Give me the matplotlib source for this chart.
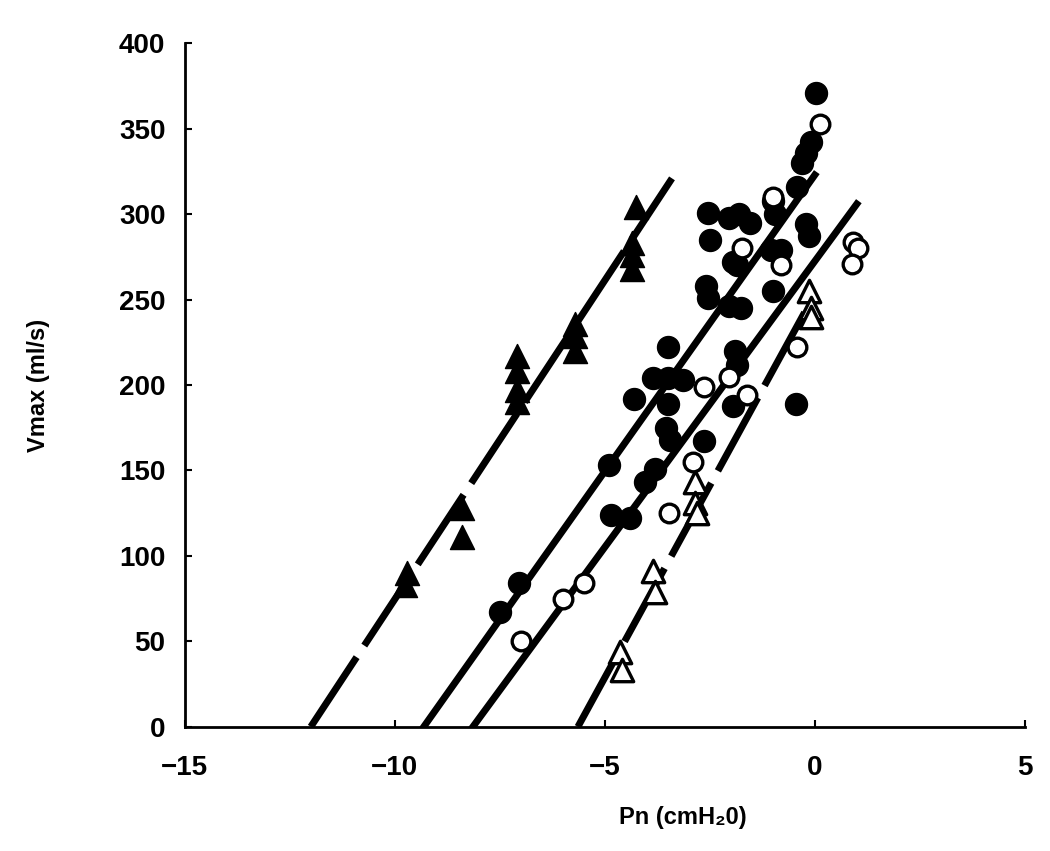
import matplotlib
matplotlib.use("Agg")
import matplotlib.pyplot as plt

plt.rcParams['font.family'] = ['Liberation Sans', 'DejaVu Sans']
plt.rcParams['font.weight'] = 'bold'

# filled triangles
tri_f_x = [-9.7, -9.75, -8.4, -8.4, -7.1, -7.1, -7.1, -7.1, -5.7, -5.7, -5.7, -4.25, -4.35, -4.35, -4.35]
tri_f_y = [90, 83, 128, 111, 217, 208, 197, 190, 236, 229, 220, 304, 283, 276, 268]

# open triangles
tri_o_x = [-4.65, -4.6, -3.85, -3.8, -2.85, -2.85, -2.8, -0.15, -0.1, -0.1]
tri_o_y = [44, 33, 91, 79, 143, 131, 125, 255, 245, 240]

# filled circles
circ_f_x = [-7.5, -7.05, -4.9, -4.85, -4.4, -4.3, -4.05, -3.8, -3.85, -3.5, -3.15, -3.5, -3.5,
            -3.55, -3.45, -2.65, -2.55, -2.5, -2.6, -2.55, -2.05, -1.8, -1.55, -1.95, -2.05,
            -1.75, -1.9, -1.85, -1.95, -1.05, -0.8, -1.0, -1.0, -0.95, -0.45, -0.43, -0.3,
            -0.2, -0.1, 0.02, -0.2, -0.15, -1.85]
circ_f_y = [67, 84, 153, 124, 122, 192, 143, 151, 204, 204, 203, 222, 189,
            175, 168, 167, 301, 285, 258, 251, 298, 300, 295, 272, 246,
            245, 220, 212, 188, 279, 279, 255, 308, 300, 189, 316, 330,
            336, 342, 371, 294, 287, 270]

# open circles
circ_o_x = [-7.0, -6.0, -5.5, -3.48, -2.9, -2.64, -2.05, -1.62, -1.74, -0.81, -1.0, -0.43, 0.12, 0.9, 1.02, 0.88]
circ_o_y = [50, 75, 84, 125, 155, 199, 205, 194, 280, 270, 310, 222, 353, 284, 280, 271]

# regression lines: (x start, x end), (y start, y end)
line_tri_f = ([-12.0, -3.4], [0, 321])
line_circ_f = ([-9.31, 0.0], [0, 323])
line_circ_o = ([-8.14, 1.0], [0, 306])
line_tri_o = ([-5.64, -0.1], [0, 249])

fig = plt.figure(figsize=(10.5, 8.51), dpi=100)
ax = fig.add_axes([0.176, 0.146, 0.8, 0.803])

dash = (12, 2)
ax.plot(*line_tri_f, color='black', lw=5, dashes=dash)
ax.plot(*line_circ_f, color='black', lw=5)
ax.plot(*line_circ_o, color='black', lw=5)
ax.plot(*line_tri_o, color='black', lw=5, dashes=dash)

ax.scatter(tri_f_x, tri_f_y, marker='^', s=300, c='black', zorder=3, clip_on=False)
ax.scatter(tri_o_x, tri_o_y, marker='^', s=260, facecolors='white', edgecolors='black',
           linewidths=2.4, zorder=3, clip_on=False)
ax.scatter(circ_f_x, circ_f_y, marker='o', s=250, c='black', zorder=3, clip_on=False)
ax.scatter(circ_o_x, circ_o_y, marker='o', s=180, facecolors='white', edgecolors='black',
           linewidths=2.4, zorder=4, clip_on=False)

ax.set_xlim(-15, 5)
ax.set_ylim(0, 400)
ax.set_xticks([-15, -10, -5, 0, 5])
ax.set_yticks(range(0, 401, 50))
ax.spines['top'].set_visible(False)
ax.spines['right'].set_visible(False)
ax.spines['left'].set_linewidth(2)
ax.spines['bottom'].set_linewidth(2)
ax.tick_params(direction='in', length=5, width=1.5, labelsize=20, pad=20)
ax.tick_params(axis='y', pad=14)
for lab in ax.get_xticklabels() + ax.get_yticklabels():
    lab.set_fontweight('bold')

ax.set_xlabel('Pn (cmH₂0)', fontsize=17, fontweight='bold')
ax.set_ylabel('Vmax (ml/s)', fontsize=17, fontweight='bold')
ax.xaxis.set_label_coords(0.593, -0.116)
ax.yaxis.set_label_coords(-0.16, 0.5)

fig.savefig('out.png', dpi=100)
